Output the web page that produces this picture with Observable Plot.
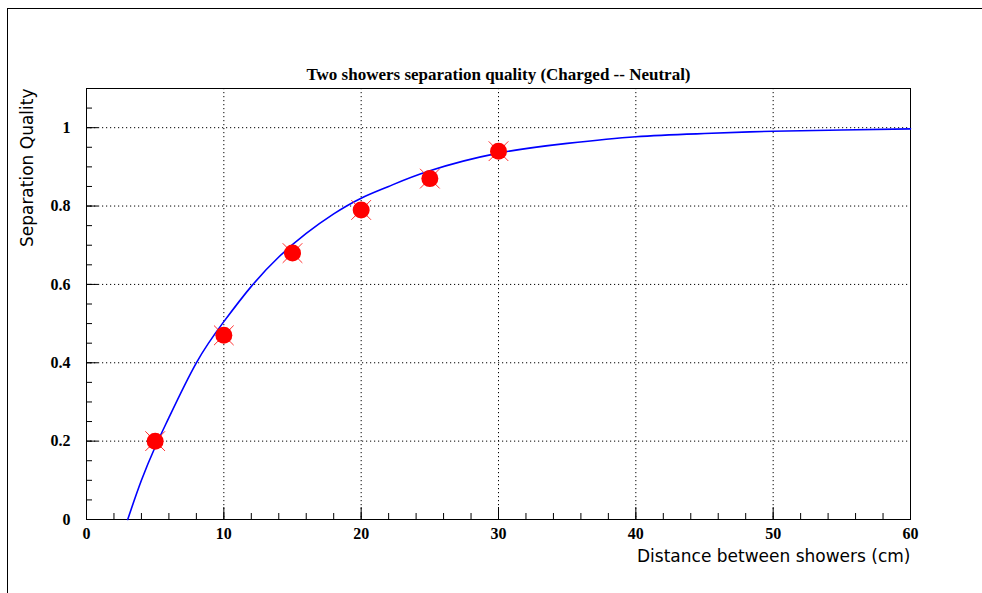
<!DOCTYPE html>
<html><head><meta charset="utf-8">
<script src="https://cdn.jsdelivr.net/npm/d3@7"></script>
<script src="https://cdn.jsdelivr.net/npm/@observablehq/plot@0.6"></script>
<style>
body{margin:0;background:#fff;}
#wrap{position:relative;width:982px;height:593px;overflow:hidden;}
#pad{position:absolute;left:7px;top:8px;width:1200px;height:800px;border-left:1px solid #000;border-top:1px solid #000;}
#chart{position:absolute;left:0;top:0;}
</style></head>
<body><div id="wrap"><div id="pad"></div><div id="chart"></div></div>
<script>
const title = "Two showers separation quality (Charged -- Neutral)";
const xLabel = "Distance between showers (cm)";
const yLabel = "Separation Quality";
// measured points
const pointX = [5, 10, 15, 20, 25, 30];
const pointY = [0.20, 0.47, 0.68, 0.79, 0.87, 0.94];
// fitted curve
const fitX = [3, 4, 5, 6, 8, 10, 12, 14, 16, 18, 20, 22, 25, 30, 35, 40, 45, 50, 55, 60];
const fitY = [0, 0.10, 0.185, 0.26, 0.40, 0.505, 0.595, 0.67, 0.73, 0.78, 0.82, 0.85, 0.89, 0.935, 0.96, 0.977, 0.985, 0.991, 0.994, 0.997];
const xMajor = [0, 10, 20, 30, 40, 50, 60];
const xMinor = d3.range(0, 61, 2);
const yMajor = [0, 0.2, 0.4, 0.6, 0.8, 1];
const yMinor = d3.range(0, 1.1001, 0.05);

const points = pointX.map((x, i) => ({x, y: pointY[i]}));
const fit = fitX.map((x, i) => ({x, y: fitY[i]}));

const tickFont = {fontFamily: "Liberation Serif", fontWeight: "bold", fontSize: 16};

const chart = Plot.plot({
  width: 982, height: 593,
  marginLeft: 86, marginRight: 72, marginTop: 88, marginBottom: 74,
  style: {background: "transparent", color: "#000"},
  x: {domain: [0, 60]},
  y: {domain: [0, 1.1]},
  marks: [
    Plot.gridX(xMajor.filter(d => d > 0 && d < 60), {stroke: "#000", strokeOpacity: 1, strokeDasharray: "1.2,2.8", strokeWidth: 1}),
    Plot.gridY(yMajor.filter(d => d > 0), {stroke: "#000", strokeOpacity: 1, strokeDasharray: "1.2,2.8", strokeWidth: 1}),
    Plot.axisX(xMinor, {anchor: "bottom", tickSize: -6, text: null, label: null}),
    Plot.axisX(xMajor, {anchor: "bottom", tickSize: -12, text: null, label: null}),
    Plot.axisX(xMajor, {anchor: "bottom", tickSize: 0, tickPadding: 8, label: null, ...tickFont, tickFormat: d => String(d)}),
    Plot.axisY(yMinor, {anchor: "left", tickSize: -6, text: null, label: null}),
    Plot.axisY(yMajor, {anchor: "left", tickSize: -12, text: null, label: null}),
    Plot.axisY(yMajor, {anchor: "left", tickSize: 0, tickPadding: 16, label: null, ...tickFont, tickFormat: d => d === 0 ? "0" : d === 1 ? "1" : d3.format(".1f")(d)}),
    Plot.frame({stroke: "#000", strokeWidth: 1}),
    Plot.line(fit, {x: "x", y: "y", curve: "natural", stroke: "#0000ff", strokeWidth: 1.6}),
    Plot.dot(points, {x: "x", y: "y", symbol: "times", r: 9, stroke: "#ff3030", strokeWidth: 1}),
    Plot.dot(points, {x: "x", y: "y", r: 8.5, fill: "#ff0000", stroke: "none"}),
    Plot.text([title], {frameAnchor: "top", lineAnchor: "bottom", dy: -9, fontFamily: "Liberation Serif", fontWeight: "bold", fontSize: 17, fill: "#000"}),
    Plot.text([yLabel], {frameAnchor: "top-left", dx: -66, rotate: -90, textAnchor: "end", fontFamily: "DejaVu Sans", fontSize: 17, fill: "#000"}),
    Plot.text([xLabel], {frameAnchor: "bottom-right", dy: 42, textAnchor: "end", fontFamily: "DejaVu Sans", fontSize: 17, fill: "#000"})
  ]
});
document.getElementById("chart").appendChild(chart);
</script>
</body></html>
